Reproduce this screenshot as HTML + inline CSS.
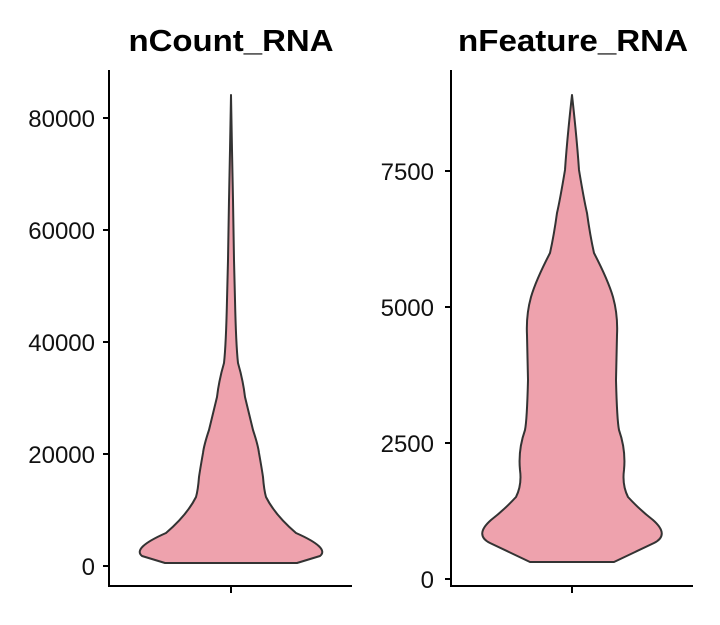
<!DOCTYPE html>
<html><head><style>body{margin:0;background:#fff}</style></head><body>
<svg width="720" height="620" xmlns="http://www.w3.org/2000/svg" font-family="Liberation Sans, Arial, sans-serif">
<rect width="720" height="620" fill="#fff"/>
<text x="231" y="51" font-size="31" font-weight="bold" text-anchor="middle" textLength="205" lengthAdjust="spacingAndGlyphs">nCount_RNA</text>
<text x="573" y="51" font-size="31" font-weight="bold" text-anchor="middle" textLength="230" lengthAdjust="spacingAndGlyphs">nFeature_RNA</text>
<g stroke="#000" stroke-width="2" fill="none">
<path d="M109,70 V586 H352"/>
<path d="M103,566 H109 M103,454 H109 M103,342 H109 M103,230 H109 M103,118 H109 M231,586 V593"/>
<path d="M451,70 V586 H693"/>
<path d="M445,579 H451 M445,443 H451 M445,307 H451 M445,171 H451 M572,586 V593"/>
</g>
<g font-size="24" fill="#111" text-anchor="end">
<text x="95" y="575">0</text><text x="95" y="463">20000</text><text x="95" y="351">40000</text><text x="95" y="239">60000</text><text x="95" y="127">80000</text>
<text x="434" y="588">0</text><text x="434" y="452">2500</text><text x="434" y="316">5000</text><text x="434" y="180">7500</text>
</g>
<path fill="#EEA2AD" stroke="#333" stroke-width="2" stroke-linejoin="round"
d="M231,95 L232,150 L233,200 L234,260 L235,300 Q236,345 238,363 Q243,380 245,397 L253,430 Q258,445 259,453 Q262,470 263,477 Q264,490 266,497 Q275,515 296,533 Q330,548 320,556 L297,563 L165,563 L142,556 Q132,548 166,533 Q187,515 196,497 Q198,490 199,477 Q200,470 203,453 Q204,445 209,430 L217,397 Q219,380 224,363 Q226,345 227,300 L228,260 L229,200 L230,150 Z"/>
<path fill="#EEA2AD" stroke="#333" stroke-width="2" stroke-linejoin="round"
d="M572,95 Q577,140 579,170 Q584,200 587,213 Q590,235 594,253 Q608,280 613,297 Q618,315 617,335 L616,380 Q617,420 619,430 Q626,450 624,470 Q622,485 628,497 Q640,510 653,520 Q670,535 654,543 L614,562 L530,562 L490,543 Q474,535 491,520 Q504,510 516,497 Q522,485 520,470 Q518,450 525,430 Q527,420 528,380 L527,335 Q526,315 531,297 Q536,280 550,253 Q554,235 557,213 Q560,200 565,170 Q567,140 572,95 Z"/>
</svg>
</body></html>
